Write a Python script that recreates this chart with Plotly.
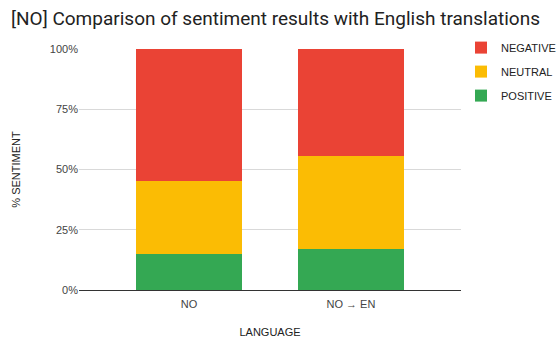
import plotly.graph_objects as go

categories = ["NO", "NO → EN"]
positive = [15.0, 17.0]
neutral = [30.4, 38.6]
negative = [54.6, 44.4]
y_ticks = [0, 25, 50, 75, 100]
y_tick_labels = ["0%", "25%", "50%", "75%", "100%"]

colors = {"POSITIVE": "#34A853", "NEUTRAL": "#FBBC04", "NEGATIVE": "#EA4335"}
ranks = {"NEGATIVE": 1, "NEUTRAL": 2, "POSITIVE": 3}

fig = go.Figure()
for name, vals in [("POSITIVE", positive), ("NEUTRAL", neutral), ("NEGATIVE", negative)]:
    fig.add_trace(go.Bar(
        x=categories, y=vals, name=name, legendgroup=name, legendrank=ranks[name],
        marker=dict(color=colors[name], line=dict(width=0)),
        width=0.65,
    ))

fig.update_layout(
    barmode="stack",
    width=558, height=341,
    margin=dict(l=79, r=97, t=49, b=51, autoexpand=False),
    paper_bgcolor="white", plot_bgcolor="white",
    font=dict(family="Liberation Sans, Arial, sans-serif", size=11, color="#222"),
    title=dict(
        text="[NO] Comparison of sentiment results with English translations",
        x=11 / 558, xanchor="left", y=1 - 18 / 341, yanchor="middle",
        font=dict(family="Roboto, sans-serif", size=19, color="#222"),
    ),
    legend=dict(
        x=1.0, xanchor="left", y=1.066, yanchor="top",
        traceorder="grouped", tracegroupgap=5,
        font=dict(size=11, color="#222"),
        bgcolor="rgba(0,0,0,0)",
    ),
    showlegend=True,
)
fig.update_xaxes(
    range=[-0.68, 1.68], automargin=False,
    showline=True, linecolor="#333", linewidth=1,
    showgrid=False, ticks="", ticklabelstandoff=4,
    title=dict(text="LANGUAGE", standoff=19, font=dict(size=11)),
    tickfont=dict(size=11, color="#444"),
)
fig.update_yaxes(
    range=[0, 100], automargin=False,
    tickvals=y_ticks, ticktext=y_tick_labels,
    showgrid=True, gridcolor="#d9d9d9", gridwidth=1,
    zeroline=False, showline=False, ticks="",
    title=dict(text="% SENTIMENT", standoff=27, font=dict(size=11)),
    tickfont=dict(size=11, color="#444"),
)

fig.write_html("out.html")
